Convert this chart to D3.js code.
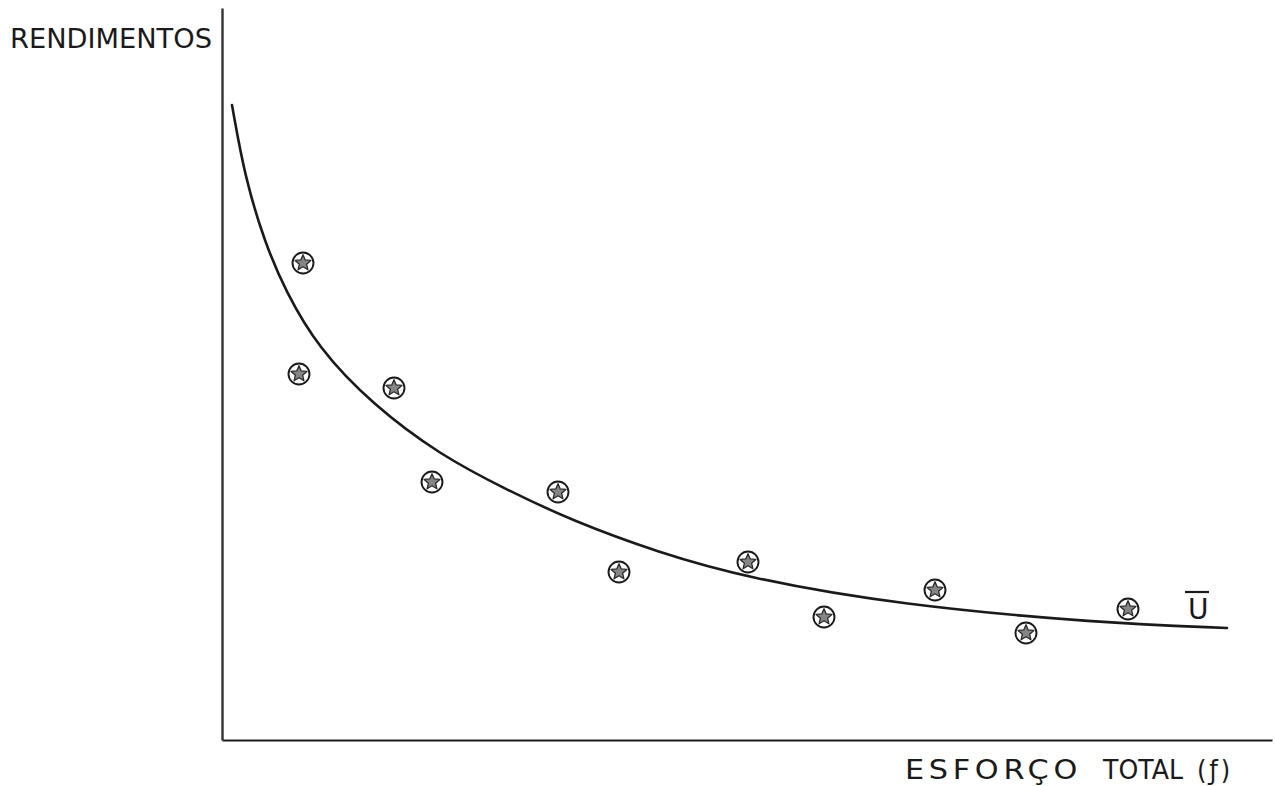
<!DOCTYPE html>
<html>
<head>
<meta charset="utf-8">
<script src="https://cdn.jsdelivr.net/npm/d3@7"></script>
<style>
  html, body { margin: 0; padding: 0; background: #fff; }
  svg { display: block; }
</style>
</head>
<body>
<svg id="chart" width="1275" height="786"></svg>
<script>
// ---- Data (arbitrary units) ----
const curveEffort = [1.0, 2.3, 4.3, 6.3, 9.6, 15.1, 21.8, 28.5, 35.1, 43.5, 52.5, 67.8, 87.8, 100.5];
const curveYield  = [63.5, 56.2, 49.7, 45.0, 39.2, 33.5, 28.5, 25.0, 21.9, 18.8, 16.2, 13.5, 11.7, 11.2];
const obsEffort = [8.1, 7.7, 17.2, 21.0, 33.6, 39.7, 52.6, 60.2, 71.3, 80.4, 90.6];
const obsYield  = [47.7, 36.6, 35.2, 25.8, 24.8, 16.8, 17.8, 12.3, 15.0, 10.7, 13.1];
const yLabel = "RENDIMENTOS";
const xLabelWords = ["ESFORÇO", "TOTAL", "(ƒ)"];
const curveLabel = "U";

// ---- Layout ----
const svg = d3.select("#chart");
const x = d3.scaleLinear().domain([0, 105]).range([222, 1272]);
const y = d3.scaleLinear().domain([0, 73.2]).range([740, 8]);
const ink = "#1a1a1a";
const font = "DejaVu Sans, sans-serif";

// axes (no ticks)
svg.append("g").attr("transform", `translate(0,${y(0)})`)
  .call(d3.axisBottom(x).ticks(0).tickSizeOuter(0))
  .call(g => g.select(".domain").attr("stroke", ink).attr("stroke-width", 2.2));
svg.append("g").attr("transform", `translate(${x(0)},0)`)
  .call(d3.axisLeft(y).ticks(0).tickSizeOuter(0))
  .call(g => g.select(".domain").attr("stroke", "#333").attr("stroke-width", 2.4));

// fitted curve
const curveData = curveEffort.map((e, i) => [e, curveYield[i]]);
svg.append("path")
  .datum(curveData)
  .attr("fill", "none")
  .attr("stroke", ink)
  .attr("stroke-width", 2.6)
  .attr("stroke-linecap", "round")
  .attr("d", d3.line().x(d => x(d[0])).y(d => y(d[1])).curve(d3.curveBasis));

// observed points: circle with star
const starPts = [];
for (let k = 0; k < 10; k++) {
  const r = k % 2 === 0 ? 8.3 : 3.8;
  const a = -Math.PI / 2 + k * Math.PI / 5;
  starPts.push([r * Math.cos(a), r * Math.sin(a)]);
}
const obs = obsEffort.map((e, i) => [e, obsYield[i]]);
const mk = svg.append("g").selectAll("g").data(obs).join("g")
  .attr("transform", d => `translate(${x(d[0])},${y(d[1])})`);
mk.append("circle").attr("r", 10.5).attr("fill", "#fff").attr("stroke", ink).attr("stroke-width", 1.9);
mk.append("polygon").attr("points", starPts.map(p => p.join(",")).join(" "))
  .attr("fill", "#858585").attr("stroke", "#2a2a2a").attr("stroke-width", 1.3)
  .attr("stroke-linejoin", "round");

// labels
svg.append("text").attr("x", 10).attr("y", 48)
  .attr("font-family", font).attr("font-size", 27)
  .attr("fill", ink).attr("textLength", 202).attr("lengthAdjust", "spacingAndGlyphs")
  .text(yLabel);

const xl = [[905, 177, 4], [1103, 80, 0], [1197, 36, 3]];
svg.selectAll("text.xlab").data(xLabelWords).join("text")
  .attr("class", "xlab")
  .attr("x", (d, i) => xl[i][0]).attr("y", 779)
  .attr("font-family", font).attr("font-size", 26)
  .attr("letter-spacing", (d, i) => xl[i][2])
  .attr("fill", ink)
  .attr("textLength", (d, i) => xl[i][1]).attr("lengthAdjust", "spacingAndGlyphs")
  .text(d => d);

svg.append("text").attr("x", 1188).attr("y", 619)
  .attr("font-family", font).attr("font-size", 28)
  .attr("fill", ink).text(curveLabel);
svg.append("line").attr("x1", 1185).attr("x2", 1209).attr("y1", 592).attr("y2", 592)
  .attr("stroke", ink).attr("stroke-width", 2.2);
</script>
</body>
</html>
